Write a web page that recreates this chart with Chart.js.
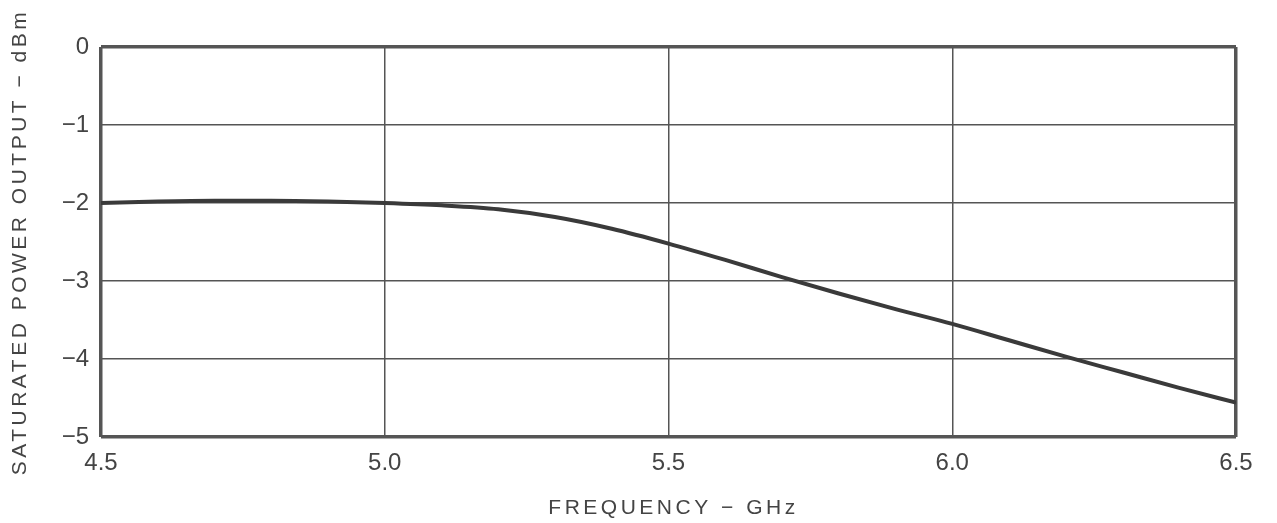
<!DOCTYPE html>
<html>
<head>
<meta charset="utf-8">
<script src="https://cdn.jsdelivr.net/npm/chart.js@4/dist/chart.umd.min.js"></script>
<style>
  html, body { margin: 0; padding: 0; background: #fff; }
  #grafico { display: block; }
</style>
</head>
<body>
<canvas id="grafico" width="1277" height="523"></canvas>
<script>
(function () {
    'use strict';

    // ── Dados ──
    const frequencias = [4.5, 4.6, 4.7, 4.8, 4.9, 5.0, 5.1, 5.2, 5.3, 5.4, 5.5,
                         5.6, 5.7, 5.8, 5.9, 6.0, 6.1, 6.2, 6.3, 6.4, 6.5];
    const potencia    = [-2.0, -1.98, -1.97, -1.97, -1.98, -2.0, -2.03, -2.08, -2.18, -2.33, -2.52,
                         -2.73, -2.95, -3.16, -3.36, -3.55, -3.76, -3.97, -4.17, -4.37, -4.56];
    const ticksX = [4.5, 5.0, 5.5, 6.0, 6.5];
    const ticksY = [0, -1, -2, -3, -4, -5];
    const tituloX = 'FREQUENCY \u2212 GHz';
    const tituloY = 'SATURATED POWER OUTPUT \u2212 dBm';

    const TINTA = '#3a3a3a';
    const GRADE = '#555555';
    const TEXTO = '#444444';
    const FONTE = "'Liberation Sans', Arial, sans-serif";

    // títulos com espaçamento entre letras (desenhados à mão)
    const titulos = {
        id: 'titulos',
        afterDraw(chart) {
            const { ctx, chartArea } = chart;
            ctx.save();
            ctx.fillStyle = TEXTO;
            ctx.font = '21px ' + FONTE;
            ctx.letterSpacing = '3.5px';
            ctx.textAlign = 'center';
            ctx.textBaseline = 'middle';
            ctx.fillText(tituloX, (chartArea.left + chartArea.right) / 2 + 5, 508);
            ctx.translate(20, (chartArea.top + chartArea.bottom) / 2);
            ctx.rotate(-Math.PI / 2);
            ctx.fillText(tituloY, 0, 0);
            ctx.restore();
        }
    };

    new Chart(document.getElementById('grafico'), {
        type: 'scatter',
        data: {
            datasets: [{
                data: frequencias.map((f, i) => ({ x: f, y: potencia[i] })),
                showLine: true,
                borderColor: TINTA,
                borderWidth: 4,
                pointRadius: 0,
                tension: 0.4,
                cubicInterpolationMode: 'monotone'
            }]
        },
        options: {
            responsive: false,
            animation: false,
            devicePixelRatio: 1,
            layout: { padding: { left: 0, right: 41, top: 47, bottom: 0 } },
            plugins: { legend: { display: false }, tooltip: { enabled: false } },
            scales: {
                x: {
                    type: 'linear',
                    min: 4.5, max: 6.5,
                    afterBuildTicks: (s) => { s.ticks = ticksX.map(v => ({ value: v })); },
                    afterFit: (s) => { s.height = 86; },
                    ticks: {
                        color: TEXTO,
                        font: { family: FONTE, size: 24 },
                        padding: 12,
                        maxRotation: 0,
                        callback: (v) => Number(v).toFixed(1)
                    },
                    grid: {
                        color: GRADE,
                        lineWidth: (c) => (c.tick && (c.tick.value === 4.5 || c.tick.value === 6.5)) ? 3.5 : 1.5,
                        drawTicks: false
                    },
                    border: { display: false }
                },
                y: {
                    min: -5, max: 0,
                    afterBuildTicks: (s) => { s.ticks = ticksY.map(v => ({ value: v })); },
                    afterFit: (s) => { s.width = 101; },
                    ticks: {
                        color: TEXTO,
                        font: { family: FONTE, size: 24 },
                        padding: 12,
                        callback: (v) => v === 0 ? '0' : '\u2212' + Math.abs(v)
                    },
                    grid: {
                        color: GRADE,
                        lineWidth: (c) => (c.tick && (c.tick.value === 0 || c.tick.value === -5)) ? 3.5 : 1.5,
                        drawTicks: false
                    },
                    border: { display: false }
                }
            }
        },
        plugins: [titulos]
    });

})();
</script>
</body>
</html>
